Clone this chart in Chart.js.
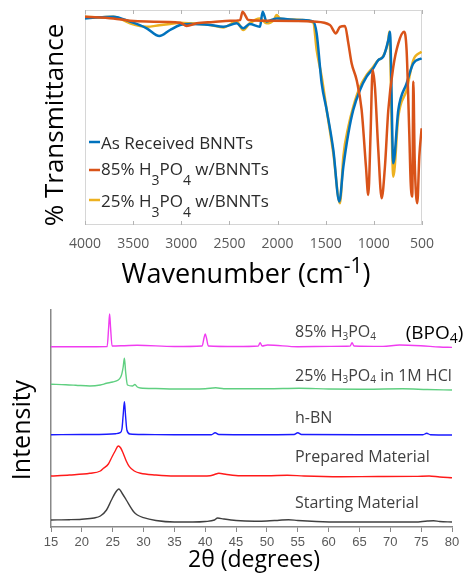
<!DOCTYPE html>
<html>
<head>
<meta charset="utf-8">
<script src="https://cdn.jsdelivr.net/npm/chart.js@4.4.1/dist/chart.umd.min.js"></script>
<style>
  html, body { margin: 0; padding: 0; background: #fff; }
  #wrap { position: relative; width: 467px; height: 586px; }
  canvas { position: absolute; left: 0; }
  #ftir { top: 0; }
  #xrd { top: 292px; }
</style>
</head>
<body>
<div id="wrap">
  <canvas id="ftir" width="467" height="292"></canvas>
  <canvas id="xrd" width="467" height="294"></canvas>
</div>
<script>
// ---- FTIR (top) ----
const ftirTicks = [4000, 3500, 3000, 2500, 2000, 1500, 1000, 500];

const asReceivedWn = [4000, 3850, 3706, 3533, 3360, 3228, 3117, 3013, 2900, 2700,
    2564, 2425, 2356, 2290, 2183, 2155, 2114, 2010, 1900, 1750,
    1629, 1594, 1542, 1490, 1421, 1359, 1317, 1265, 1214, 1144,
    1075, 1006, 954, 902, 850, 833, 798, 746, 660, 590, 504];
const asReceivedT = [96.1, 96.6, 96.9, 94.6, 91.5, 87.9, 90.7, 93.0, 93.5, 93.0,
    92.2, 93.8, 91.5, 93.5, 92.2, 99.2, 94.6, 96.1, 95.7, 95.3,
    94.6, 89.1, 65.9, 53.5, 34.9, 10.9, 27.1, 42.6, 53.5, 62.8,
    69.0, 72.9, 76.7, 78.3, 86.0, 89.9, 28.7, 53.5, 65.9, 75.2, 77.5];

const acid85Wn = [4000, 3706, 3533, 3360, 3013, 2944, 2840, 2667, 2494, 2390,
    2363, 2338, 2304, 2148, 1802, 1629, 1456, 1394, 1352, 1300,
    1265, 1231, 1179, 1127, 1082, 1058, 1034, 1013, 989, 954,
    919, 885, 850, 798, 746, 687, 660, 632, 618, 601,
    590, 576, 549, 528, 504];
const acid85T = [96.9, 96.1, 95.0, 94.6, 94.1, 92.6, 93.8, 94.4, 95.0, 95.3,
    99.2, 97.7, 95.3, 95.0, 94.9, 94.6, 93.0, 89.1, 92.2, 92.6,
    84.5, 75.2, 67.4, 53.5, 27.1, 14.0, 42.6, 72.1, 64.3, 34.9,
    12.4, 27.1, 53.5, 73.6, 84.5, 89.9, 81.4, 42.6, 20.2, 13.2,
    66.7, 30.2, 10.1, 31.8, 45.0];

const acid25Wn = [4000, 3850, 3706, 3533, 3360, 3228, 3117, 3013, 2900, 2700,
    2564, 2425, 2356, 2290, 2183, 2114, 2040, 2010, 1975, 1900,
    1750, 1629, 1594, 1542, 1490, 1421, 1352, 1317, 1265, 1214,
    1144, 1075, 1006, 954, 902, 850, 840, 798, 746, 660,
    590, 504];
const acid25T = [96.9, 96.6, 96.9, 93.8, 92.2, 92.9, 93.5, 94.1, 93.8, 93.0,
    91.9, 94.6, 90.7, 93.8, 96.1, 93.8, 95.3, 97.7, 96.1, 95.7,
    95.3, 94.1, 81.4, 69.0, 53.5, 33.3, 10.1, 31.8, 45.7, 55.0,
    64.3, 69.8, 73.6, 76.7, 78.6, 86.0, 89.9, 22.5, 50.4, 62.8,
    76.7, 80.6];

// ---- XRD (bottom), intensities offset per trace ----
const startingX = [15, 18, 20, 22, 23, 24, 24.8, 25.4, 26, 26.6, 27.2, 28.4, 29, 30, 32, 35, 38, 40, 41.5, 42,
    43, 45, 48, 50, 52, 53.5, 55, 58, 62, 66, 70, 74, 76, 77, 78, 80];
const startingY = [7, 7.3, 7.8, 9, 11, 17, 27, 34, 38, 33, 27, 15.3, 12, 9.3, 6.5, 5, 5, 5.5, 7, 9,
    8, 6.5, 5.8, 6, 6.8, 7.3, 6.5, 5.5, 5, 5, 5, 5, 6, 6.3, 5.5, 5];

const preparedX = [15, 18, 21.3, 23, 23.5, 24.3, 24.9, 25.4, 25.9, 26.3, 26.7, 27.2, 27.7, 28.5, 29.5, 32,
    35, 38, 40.8, 41.5, 42.2, 43.5, 45.7, 50, 53.3, 56, 62, 68, 74, 76.3, 78, 80];
const preparedY = [51, 52, 53.7, 56, 58.7, 63, 70.3, 76, 81, 79, 73.7, 66, 60.3, 56, 53.7, 52,
    51, 51, 51.3, 52.5, 53.7, 52.5, 51.3, 51.3, 51.8, 51, 50.3, 50.5, 50.6, 51, 50, 49.3];

const hbnX = [15, 20, 24, 25.5, 26.2, 26.5, 26.7, 26.9, 27.1, 27.3, 27.8, 30, 35, 41, 41.6, 42.2,
    48, 54.4, 55, 55.6, 65, 75.3, 75.9, 76.5, 80];
const hbnY = [92.3, 92.5, 92.8, 93.3, 94.3, 98, 112, 125.3, 110, 97, 93, 92.5, 92.3, 92.3, 94.3, 92.5,
    92.3, 92.5, 94.3, 92.5, 92.3, 92.3, 93.7, 92.3, 92];

const hclX = [15, 17.4, 19, 21.3, 23, 24, 25, 25.9, 26.3, 26.5, 26.7, 26.9, 27.1, 27.4, 28.2,
    28.6, 29, 29.5, 32, 34.9, 40, 41.7, 43, 50, 55.2, 60, 66, 72, 76, 80];
const hclY = [142.7, 142.3, 141.8, 141, 142, 143.7, 145, 147, 150, 153.7, 160, 168.7, 155, 142, 141,
    142.5, 140, 139, 138.5, 138, 138.3, 139.2, 138.3, 138.2, 138.7, 138, 137.8, 138.2, 137.5, 137];

const bpoX = [15, 20, 24.1, 24.35, 24.5, 24.65, 24.9, 26.9, 29, 35, 39.5, 39.8, 40, 40.2, 40.5,
    45, 48.6, 48.9, 49.2, 50.1, 55, 60.3, 63.5, 63.8, 64.1, 68.8, 71.5, 74.9, 78, 80];
const bpoY = [180.3, 180.3, 180.5, 200, 213, 200, 181, 181.3, 181.7, 180.5, 181, 189, 193, 189, 181,
    180.5, 181, 184.3, 181, 182, 180.3, 180.6, 181, 184.3, 181, 180.6, 182, 181.3, 180, 179.6];

const pts = (xs, ys) => xs.map((x, i) => ({ x, y: ys[i] }));
const SANS = "'Open Sans', 'Noto Sans', sans-serif";

// text with _{sub} and ^{sup} pieces
function richParts(str) {
    const out = [];
    const re = /(_|\^)\{([^}]*)\}|([^_^]+)/g;
    let m;
    while ((m = re.exec(str)) !== null) {
        if (m[3]) out.push({ t: m[3], kind: 'n' });
        else out.push({ t: m[2], kind: m[1] === '_' ? 'sub' : 'sup' });
    }
    return out;
}

function drawRich(ctx, str, x, y, o) {
    const parts = richParts(str);
    const fontFor = (k) => `${k === 'n' ? o.size : o.small}px ${SANS}`;
    let w = 0;
    parts.forEach((p) => { ctx.font = fontFor(p.kind); w += ctx.measureText(p.t).width; });
    let cx = o.align === 'center' ? x - w / 2 : x;
    ctx.fillStyle = o.color;
    ctx.textAlign = 'left';
    ctx.textBaseline = 'alphabetic';
    parts.forEach((p) => {
        ctx.font = fontFor(p.kind);
        const dy = p.kind === 'sub' ? o.subShift : p.kind === 'sup' ? -o.supShift : 0;
        ctx.fillText(p.t, cx, y + dy);
        cx += ctx.measureText(p.t).width;
    });
}

const ftirSeries = [
    { label: 'As Received BNNTs', color: '#0072BD', base: 149, mark: 142 },
    { label: '85% H_{3}PO_{4} w/BNNTs', color: '#D95319', base: 175, mark: 170 },
    { label: '25% H_{3}PO_{4} w/BNNTs', color: '#EDB120', base: 207, mark: 200 },
];

const ftirDecor = {
    id: 'ftirDecor',
    beforeDatasetsDraw(chart) {
        const { ctx, chartArea: a, scales: { x } } = chart;
        ctx.save();
        ctx.strokeStyle = '#d6d6d6';
        ctx.lineWidth = 1;
        ctx.strokeRect(a.left + 0.5, a.top + 0.5, a.width - 1, a.height - 1);
        ctx.strokeStyle = '#b4b4b4';
        ftirTicks.forEach((v) => {
            const px = Math.round(x.getPixelForValue(v)) + 0.5;
            ctx.beginPath();
            ctx.moveTo(px, a.top); ctx.lineTo(px, a.top + 4);
            ctx.moveTo(px, a.bottom); ctx.lineTo(px, a.bottom - 4);
            ctx.stroke();
        });
        ctx.restore();
    },
    afterDraw(chart) {
        const { ctx, chartArea: a } = chart;
        ctx.save();
        ftirSeries.forEach((s) => {
            ctx.strokeStyle = s.color;
            ctx.lineWidth = 2.5;
            ctx.beginPath();
            ctx.moveTo(a.left + 4, s.mark);
            ctx.lineTo(a.left + 15, s.mark);
            ctx.stroke();
            drawRich(ctx, s.label, a.left + 16, s.base,
                { size: 17, small: 14, subShift: 10, supShift: 0, color: '#2b2b2b' });
        });
        drawRich(ctx, 'Wavenumber (cm^{-1})', 246, 283,
            { size: 27, small: 21, subShift: 0, supShift: 10, color: '#000', align: 'center' });
        ctx.translate(63, 125);
        ctx.rotate(-Math.PI / 2);
        drawRich(ctx, '% Transmittance', 0, 0,
            { size: 26, small: 20, subShift: 0, supShift: 0, color: '#000', align: 'center' });
        ctx.restore();
    },
};

new Chart(document.getElementById('ftir'), {
    type: 'line',
    data: {
        datasets: [
            { label: '85% H3PO4 w/BNNTs', data: pts(acid85Wn, acid85T), borderColor: '#D95319' },
            { label: 'As Received BNNTs', data: pts(asReceivedWn, asReceivedT), borderColor: '#0072BD' },
            { label: '25% H3PO4 w/BNNTs', data: pts(acid25Wn, acid25T), borderColor: '#EDB120' },
        ],
    },
    options: {
        responsive: false,
        animation: false,
        devicePixelRatio: 1,
        layout: { padding: { left: 85, right: 45, top: 10, bottom: 0 } },
        elements: {
            point: { radius: 0 },
            line: { borderWidth: 2.5, cubicInterpolationMode: 'monotone', fill: false },
        },
        plugins: { legend: { display: false }, tooltip: { enabled: false } },
        scales: {
            x: {
                type: 'linear',
                reverse: true,
                min: 500,
                max: 4000,
                grid: { display: false },
                border: { display: false },
                ticks: {
                    stepSize: 500,
                    padding: 3,
                    maxRotation: 0,
                    autoSkip: false,
                    color: '#595959',
                    font: { family: SANS, size: 14 },
                    callback: (v) => String(v),
                },
                afterFit: (s) => { s.height = 67; },
            },
            y: { display: false, min: 0, max: 100 },
        },
    },
    plugins: [ftirDecor],
});

// ---- XRD ----
const xrdLabels = [
    { text: '85% H_{3}PO_{4}', x: 54.55, y: 189.6, size: 16, small: 10, shift: 2.5, color: '#404040' },
    { text: '(BPO_{4})', x: 72.5, y: 188, size: 19, small: 14, shift: 4, color: '#000' },
    { text: '25% H_{3}PO_{4} in 1M HCl', x: 54.55, y: 146.3, size: 16, small: 10, shift: 2.5, color: '#404040' },
    { text: 'h-BN', x: 54.55, y: 104, size: 16, small: 10, shift: 2.5, color: '#404040' },
    { text: 'Prepared Material', x: 54.55, y: 64.6, size: 16, small: 10, shift: 2.5, color: '#404040' },
    { text: 'Starting Material', x: 54.55, y: 19, size: 16, small: 10, shift: 2.5, color: '#404040' },
];

const xrdDecor = {
    id: 'xrdDecor',
    afterDraw(chart) {
        const { ctx, scales: { x, y } } = chart;
        ctx.save();
        xrdLabels.forEach((l) => {
            drawRich(ctx, l.text, x.getPixelForValue(l.x), y.getPixelForValue(l.y),
                { size: l.size, small: l.small, subShift: l.shift, supShift: 0, color: l.color });
        });
        drawRich(ctx, '2θ (degrees)', 254, 275,
            { size: 23, small: 16, subShift: 0, supShift: 0, color: '#000', align: 'center' });
        ctx.translate(29.5, 138);
        ctx.rotate(-Math.PI / 2);
        drawRich(ctx, 'Intensity', 0, 0,
            { size: 25, small: 16, subShift: 0, supShift: 0, color: '#000', align: 'center' });
        ctx.restore();
    },
};

new Chart(document.getElementById('xrd'), {
    type: 'line',
    data: {
        datasets: [
            { label: 'Starting Material', data: pts(startingX, startingY), borderColor: '#404040' },
            { label: 'Prepared Material', data: pts(preparedX, preparedY), borderColor: '#ff1a1a' },
            { label: 'h-BN', data: pts(hbnX, hbnY), borderColor: '#1a1aff' },
            { label: '25% H3PO4 in 1M HCl', data: pts(hclX, hclY), borderColor: '#5fcf80' },
            { label: '85% H3PO4', data: pts(bpoX, bpoY), borderColor: '#f03cf0' },
        ],
    },
    options: {
        responsive: false,
        animation: false,
        devicePixelRatio: 1,
        layout: { padding: { left: 51, right: 15, top: 18, bottom: 0 } },
        elements: {
            point: { radius: 0 },
            line: { borderWidth: 1.4, cubicInterpolationMode: 'monotone', fill: false },
        },
        plugins: { legend: { display: false }, tooltip: { enabled: false } },
        scales: {
            x: {
                type: 'linear',
                min: 15,
                max: 80,
                grid: { display: true, drawOnChartArea: false, drawTicks: true, tickLength: 5, color: '#888' },
                border: { display: true, color: '#888', width: 1.5 },
                ticks: {
                    stepSize: 5,
                    padding: 3,
                    maxRotation: 0,
                    autoSkip: false,
                    color: '#595959',
                    font: { family: "'Liberation Sans', Arial, sans-serif", size: 13 },
                },
                afterFit: (s) => { s.height = 59; },
            },
            y: {
                min: 0,
                max: 217,
                grid: { display: false },
                border: { display: true, color: '#888', width: 1.5 },
                ticks: { display: false },
                afterFit: (s) => { s.width = 0; },
            },
        },
    },
    plugins: [xrdDecor],
});
</script>
</body>
</html>
